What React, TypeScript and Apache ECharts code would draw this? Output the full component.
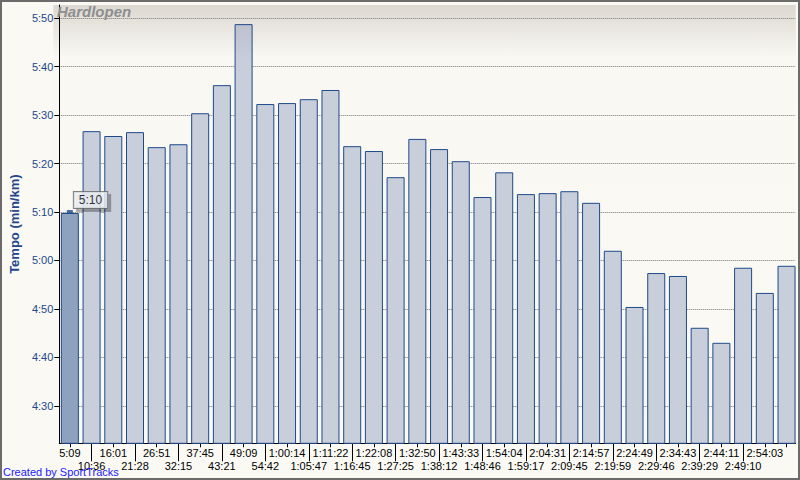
import React, { useEffect, useRef } from 'react';
import * as echarts from 'echarts';

// Cumulative split times (x-axis labels) and pace per km (seconds per km)
const splitLabels = [
  '5:09', '10:36', '16:01', '21:28', '26:51', '32:15', '37:45', '43:21', '49:09', '54:42',
  '1:00:14', '1:05:47', '1:11:22', '1:16:45', '1:22:08', '1:27:25', '1:32:50', '1:38:12',
  '1:43:33', '1:48:46', '1:54:04', '1:59:17', '2:04:31', '2:09:45', '2:14:57', '2:19:59',
  '2:24:49', '2:29:46', '2:34:43', '2:39:29', '2:44:11', '2:49:10', '2:54:03', '',
];
const paceSeconds = [
  309.8, 326.7, 325.7, 326.5, 323.4, 324.0, 330.4, 336.2, 348.8, 332.3,
  332.5, 333.3, 335.2, 323.6, 322.6, 317.2, 325.1, 323.0, 320.5, 313.1,
  318.2, 313.7, 313.9, 314.3, 311.9, 302.0, 290.4, 297.4, 296.8, 286.1,
  283.0, 298.5, 293.3, 298.9,
];
const selectedIndex = 0;
const paceMin = 262.25;
const paceMax = 352.75;
const chartTitle = 'Hardlopen';
const yAxisName = 'Tempo (min/km)';
const creditText = 'Created by SportTracks';

const FONT = '"Liberation Sans", Arial, sans-serif';
const BLUE = '#1f4a8c';
const LABEL_BLUE = '#23468a';

const fmt = (s: number) => {
  const r = Math.round(s);
  return Math.floor(r / 60) + ':' + String(r % 60).padStart(2, '0');
};

export default function App() {
  const ref = useRef<HTMLDivElement>(null);
  useEffect(() => {
    if (!ref.current) return;
    const chart = echarts.init(ref.current, undefined, { renderer: 'svg' });
    const barGradient = new echarts.graphic.LinearGradient(
      0, 5, 0, 62,
      [
        { offset: 0, color: '#b5bac5' },
        { offset: 1, color: '#c9cedb' },
      ],
      true
    );
    const option: any = {
      animation: false,
      backgroundColor: '#faf9f4',
      grid: [
        { left: 59, right: 2.6, top: 5, bottom: 36.7 },
        { left: 53.3, right: 4.5, top: 5, bottom: 36.7 },
      ],
      xAxis: [
        {
          gridIndex: 0,
          type: 'category',
          data: splitLabels,
          position: 'bottom',
          axisLine: { show: false },
          axisTick: { show: true, alignWithLabel: true, interval: 0, length: 4, lineStyle: { color: '#000' } },
          axisLabel: {
            interval: 0,
            margin: 3,
            color: '#000',
            fontSize: 11,
            lineHeight: 13,
            fontFamily: FONT,
            formatter: (v: string, i: number) => (i % 2 === 1 ? '\n' + v : v),
          },
          splitLine: { show: false },
        },
        {
          gridIndex: 0,
          type: 'category',
          data: splitLabels,
          position: 'bottom',
          axisLine: { show: false },
          axisTick: {
            show: true,
            alignWithLabel: true,
            interval: (i: number) => i % 2 === 1 && splitLabels[i] !== '',
            length: 18,
            lineStyle: { color: '#000' },
          },
          axisLabel: { show: false },
          splitLine: { show: false },
        },
        {
          gridIndex: 1,
          type: 'value',
          min: 0,
          max: 1,
          axisLine: { show: true, onZero: false, lineStyle: { color: '#000' } },
          axisTick: { show: false },
          axisLabel: { show: false },
          splitLine: { show: false },
        },
      ],
      yAxis: [
        { gridIndex: 0, type: 'value', min: paceMin, max: paceMax, show: false, splitLine: { show: false } },
        {
          gridIndex: 1,
          type: 'value',
          min: paceMin,
          max: paceMax,
          splitNumber: 9,
          minInterval: 10,
          maxInterval: 10,
          name: yAxisName,
          nameLocation: 'middle',
          nameGap: 33,
          nameTextStyle: { color: LABEL_BLUE, fontWeight: 'bold', fontSize: 13, fontFamily: FONT },
          axisLine: { show: true, lineStyle: { color: '#000' } },
          axisTick: { show: true, length: 5, lineStyle: { color: '#000' } },
          axisLabel: {
            color: LABEL_BLUE,
            fontSize: 11,
            fontFamily: FONT,
            margin: 6,
            showMinLabel: false,
            showMaxLabel: false,
            formatter: (v: number) => fmt(v),
          },
          splitLine: {
            show: true,
            showMinLine: false,
            showMaxLine: false,
            lineStyle: { color: '#777', type: 'dotted', width: 1 },
          },
        },
      ],
      series: [
        {
          type: 'bar',
          xAxisIndex: 0,
          yAxisIndex: 0,
          barWidth: 18,
          data: paceSeconds.map((v, i) =>
            i === selectedIndex
              ? { value: v, itemStyle: { color: '#8ea1be', borderColor: BLUE, borderWidth: 1 } }
              : v
          ),
          itemStyle: { color: barGradient, borderColor: BLUE, borderWidth: 1 },
          z: 2,
        },
        {
          type: 'scatter',
          xAxisIndex: 0,
          yAxisIndex: 0,
          data: [[selectedIndex, paceSeconds[selectedIndex]]],
          symbol: 'rect',
          symbolSize: [6, 4],
          symbolOffset: [0, -1],
          itemStyle: { color: BLUE },
          z: 5,
          label: {
            show: true,
            position: [7, -18],
            align: 'left',
            verticalAlign: 'top',
            formatter: () => fmt(paceSeconds[selectedIndex]),
            color: '#000',
            fontSize: 12,
            lineHeight: 14,
            fontFamily: FONT,
            backgroundColor: '#eef2f6',
            borderColor: '#666',
            borderWidth: 1,
            padding: [1, 5],
            shadowColor: 'rgba(0,0,0,0.35)',
            shadowBlur: 1,
            shadowOffsetX: 3,
            shadowOffsetY: 3,
          },
        },
      ],
      graphic: {
        elements: [
          {
            type: 'rect',
            z: -10,
            silent: true,
            shape: { x: 53.3, y: 5, width: 742.5, height: 438.3 },
            style: {
              fill: {
                type: 'linear',
                x: 0, y: 0, x2: 0, y2: 1,
                colorStops: [
                  { offset: 0, color: '#dcd8d1' },
                  { offset: 0.12, color: '#f9f8f3' },
                  { offset: 1, color: '#faf9f4' },
                ],
              },
            },
          },
          {
            type: 'text',
            z: 10,
            silent: true,
            style: {
              text: chartTitle,
              x: 57,
              y: 4,
              verticalAlign: 'top',
              fill: '#8e8e8e',
              fontSize: 15,
              fontWeight: 'bold',
              fontStyle: 'italic',
              fontFamily: FONT,
            },
          },
          {
            type: 'text',
            z: 10,
            silent: true,
            style: {
              text: creditText,
              x: 3,
              y: 466,
              verticalAlign: 'top',
              fill: '#1a1aff',
              fontSize: 11,
              fontFamily: FONT,
            },
          },
          {
            type: 'rect',
            z: 100,
            silent: true,
            shape: { x: 1, y: 1, width: 798, height: 478 },
            style: { fill: 'none', stroke: '#6b6b6b', lineWidth: 2 },
          },
        ],
      },
    };
    chart.setOption(option);
    return () => chart.dispose();
  }, []);
  return (
    <div
      ref={ref}
      style={{ position: 'fixed', left: 0, top: 0, width: 800, height: 480 }}
    />
  );
}
